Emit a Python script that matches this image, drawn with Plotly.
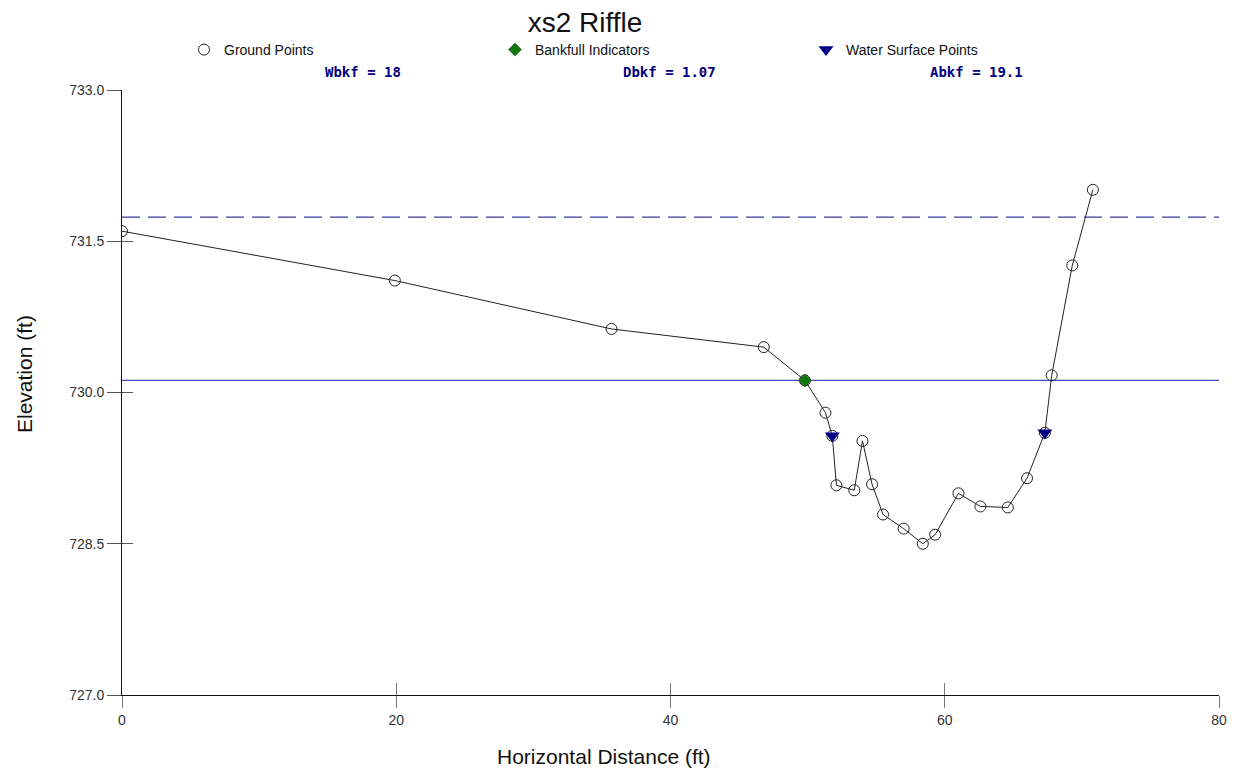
import plotly.graph_objects as go

# Ground survey points (station ft, elevation ft)
ground_x = [0.0, 19.9, 35.7, 46.8, 49.8, 51.3, 51.8, 52.1, 53.4, 54.0, 54.7, 55.5, 57.0,
            58.4, 59.3, 61.0, 62.6, 64.6, 66.0, 67.3, 67.8, 69.3, 70.8]
ground_y = [731.60, 731.11, 730.63, 730.45, 730.12, 729.80, 729.57, 729.08, 729.03, 729.52,
            729.09, 728.79, 728.65, 728.50, 728.59, 729.00, 728.87, 728.86, 729.15, 729.60,
            730.17, 731.26, 732.01]

bankfull_x = [49.8]
bankfull_y = [730.12]

water_x = [51.8, 67.3]
water_y = [729.57, 729.60]

bankfull_elev = 730.12
upper_elev = 731.74
x_range = [0, 80]
y_range = [727.0, 733.0]
y_ticks = [727.0, 728.5, 730.0, 731.5, 733.0]
x_ticks = [0, 20, 40, 60, 80]

stats = ["Wbkf = 18", "Dbkf = 1.07", "Abkf = 19.1"]
stats_pos = [0.22, 0.4995, 0.779]

fig = go.Figure()

fig.add_trace(go.Scatter(x=x_range, y=[upper_elev, upper_elev], mode="lines",
                         line=dict(color="#3a3aa0", width=1.2, dash="18px,8px"),
                         showlegend=False, hoverinfo="skip"))
fig.add_trace(go.Scatter(x=x_range, y=[bankfull_elev, bankfull_elev], mode="lines",
                         line=dict(color="#4848b8", width=1.2),
                         showlegend=False, hoverinfo="skip"))

fig.add_trace(go.Scatter(x=ground_x, y=ground_y, mode="lines", showlegend=False,
                         line=dict(color="#222222", width=1), hoverinfo="skip"))
fig.add_trace(go.Scatter(x=ground_x, y=ground_y, mode="markers", name="Ground Points",
                         marker=dict(symbol="circle-open", size=11, color="#222222",
                                     line=dict(width=1))))
fig.add_trace(go.Scatter(x=bankfull_x, y=bankfull_y, mode="markers", name="Bankfull Indicators",
                         marker=dict(symbol="diamond", size=10, color="#117711",
                                     line=dict(width=0.5, color="#0a4a0a"))))
fig.add_trace(go.Scatter(x=water_x, y=water_y, mode="markers", name="Water Surface Points",
                         marker=dict(symbol="triangle-down", size=13, color="#000080",
                                     line=dict(width=0))))
# invisible trace to host overlay axes (inside tick marks)
fig.add_trace(go.Scatter(x=[None], y=[None], xaxis="x2", yaxis="y2",
                         showlegend=False, hoverinfo="skip"))

for txt, xp in zip(stats, stats_pos):
    fig.add_annotation(text=txt, x=xp, y=1.0298, xref="paper", yref="paper",
                       showarrow=False, xanchor="center", yanchor="middle",
                       font=dict(family="DejaVu Sans Mono", size=14, color="#000080",
                                 weight="bold"))

fig.add_annotation(text="Horizontal Distance (ft)", x=(604 - 122) / 1097, y=-(756 - 695) / 605,
                   xref="paper", yref="paper", showarrow=False, xanchor="center",
                   yanchor="middle", font=dict(family="Arial, Liberation Sans", size=21,
                                                color="#111111"))
fig.add_annotation(text="Elevation (ft)", x=-(122 - 24) / 1097, y=(695 - 374) / 605,
                   xref="paper", yref="paper", showarrow=False, xanchor="center",
                   yanchor="middle", textangle=-90,
                   font=dict(family="Arial, Liberation Sans", size=21, color="#111111"))

tick_font = dict(family="Arial, Liberation Sans", size=14, color="#333333")

fig.update_layout(
    width=1231, height=763,
    margin=dict(l=114, r=20, t=82, b=76),
    paper_bgcolor="white", plot_bgcolor="white",
    font=dict(family="Arial, Liberation Sans", color="#111111"),
    title=dict(text="xs2 Riffle", x=577 / 1231, xanchor="center", y=1 - 14 / 763,
               yanchor="middle", yref="container",
               font=dict(family="Arial, Liberation Sans", size=28, color="#111111")),
    showlegend=True,
    legend=dict(orientation="h", x=(184 - 122) / 1097, xanchor="left",
                y=(695 - 50) / 605, yanchor="middle",
                entrywidth=266, entrywidthmode="pixels", itemwidth=30,
                font=dict(family="Arial, Liberation Sans", size=14, color="#111111"),
                bgcolor="rgba(0,0,0,0)"),
    xaxis=dict(range=x_range, tickvals=x_ticks, ticks="outside", ticklen=12,
               tickcolor="#777777", tickwidth=1, showline=True, linecolor="#111111",
               linewidth=1, showgrid=False, zeroline=False, tickfont=tick_font),
    yaxis=dict(range=y_range, tickvals=y_ticks, tickformat=".1f", ticks="outside",
               ticklen=14, tickcolor="#555555", tickwidth=1, showline=True,
               linecolor="#111111", linewidth=1, showgrid=False, zeroline=False,
               tickfont=tick_font),
    xaxis2=dict(overlaying="x", matches="x", range=x_range, tickvals=x_ticks,
                ticks="inside", ticklen=12, tickcolor="#777777", showticklabels=False,
                showline=False, showgrid=False, zeroline=False),
    yaxis2=dict(overlaying="y", matches="y", range=y_range, tickvals=y_ticks, side="left",
                ticks="inside", ticklen=11, tickcolor="#555555", showticklabels=False,
                showline=False, showgrid=False, zeroline=False),
)

fig.write_html("out.html")
